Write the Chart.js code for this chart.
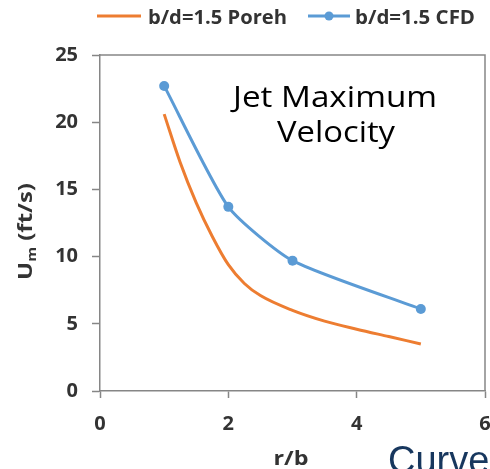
<!DOCTYPE html>
<html>
<head>
<meta charset="utf-8">
<script src="https://cdn.jsdelivr.net/npm/chart.js@4/dist/chart.umd.min.js"></script>
<style>
  html, body { margin: 0; padding: 0; background: #fff; }
</style>
</head>
<body>
<canvas id="myChart" width="490" height="469"></canvas>
<script>
// values
const porehX = [1, 1.25, 1.5, 1.75, 2, 2.25, 2.5, 3, 3.5, 4, 4.5, 5];
const porehY = [20.6, 17.0, 14.0, 11.5, 9.4, 8.0, 7.1, 6.0, 5.2, 4.6, 4.05, 3.5];
const cfdX = [1, 2, 3, 5];
const cfdY = [22.7, 13.7, 9.7, 6.1];
const xTicks = [0, 2, 4, 6];
const yTicks = [0, 5, 10, 15, 20, 25];

const orange = '#ED7D31';
const blue = '#5B9BD5';
const axisGray = '#868686';
const textDark = '#333333';

// draws text stretched to a given width (Calibri-like look)
function fitText(ctx, text, x, y, width, align) {
    const w = ctx.measureText(text).width;
    ctx.save();
    ctx.translate(x, y);
    ctx.scale(width / w, 1);
    ctx.textAlign = align;
    ctx.fillText(text, 0, 0);
    ctx.restore();
}

const extras = {
    id: 'extras',
    afterDraw(chart) {
        const ctx = chart.ctx;
        const a = chart.chartArea;

        // frame top + right
        ctx.save();
        ctx.strokeStyle = axisGray;
        ctx.lineWidth = 1.5;
        ctx.beginPath();
        ctx.moveTo(a.left, a.top);
        ctx.lineTo(a.right, a.top);
        ctx.lineTo(a.right, a.bottom);
        ctx.stroke();

        // legend
        ctx.lineWidth = 3;
        ctx.strokeStyle = orange;
        ctx.beginPath();
        ctx.moveTo(97, 16);
        ctx.lineTo(141, 16);
        ctx.stroke();
        ctx.strokeStyle = blue;
        ctx.beginPath();
        ctx.moveTo(308, 16);
        ctx.lineTo(350, 16);
        ctx.stroke();
        ctx.fillStyle = blue;
        ctx.beginPath();
        ctx.arc(329, 16, 4.5, 0, Math.PI * 2);
        ctx.fill();

        ctx.fillStyle = textDark;
        ctx.textBaseline = 'alphabetic';
        ctx.font = 'bold 20px "Open Sans"';
        fitText(ctx, 'b/d=1.5 Poreh', 148, 24, 139, 'left');
        fitText(ctx, 'b/d=1.5 CFD', 355, 24, 120, 'left');

        // annotation
        ctx.fillStyle = '#000';
        ctx.font = '30px "Open Sans"';
        fitText(ctx, 'Jet Maximum', 335, 107, 204, 'center');
        fitText(ctx, 'Velocity', 336, 142, 118, 'center');

        // axis titles
        ctx.fillStyle = textDark;
        ctx.font = 'bold 20px "Open Sans"';
        fitText(ctx, 'r/b', 291, 465, 35, 'center');

        ctx.save();
        ctx.translate(32, 280);
        ctx.rotate(-Math.PI / 2);
        ctx.font = 'bold 19px "Open Sans"';
        const uW = ctx.measureText('U').width;
        ctx.font = 'bold 12px "Open Sans"';
        const mW = ctx.measureText('m').width;
        ctx.font = 'bold 19px "Open Sans"';
        const restW = ctx.measureText(' (ft/s)').width;
        const sx = 97 / (uW + mW + restW);
        ctx.scale(sx, 1);
        ctx.textAlign = 'left';
        ctx.fillText('U', 0, 0);
        ctx.font = 'bold 12px "Open Sans"';
        ctx.fillText('m', uW, 4);
        ctx.font = 'bold 19px "Open Sans"';
        ctx.fillText(' (ft/s)', uW + mW, 0);
        ctx.restore();

        // cut-off text at the bottom right
        ctx.fillStyle = '#17375E';
        ctx.font = '38px "Liberation Sans"';
        ctx.textAlign = 'left';
        ctx.fillText('Curve', 388, 473);
        ctx.restore();
    }
};

const ctx = document.getElementById('myChart').getContext('2d');
const myChart = new Chart(ctx, {
    type: 'line',
    data: {
        datasets: [{
            label: 'b/d=1.5 Poreh',
            data: porehX.map((x, i) => ({ x: x, y: porehY[i] })),
            borderColor: orange,
            borderWidth: 3,
            pointRadius: 0,
            cubicInterpolationMode: 'monotone'
        }, {
            label: 'b/d=1.5 CFD',
            data: cfdX.map((x, i) => ({ x: x, y: cfdY[i] })),
            borderColor: blue,
            backgroundColor: blue,
            borderWidth: 3,
            pointRadius: 5,
            pointBackgroundColor: blue,
            pointBorderWidth: 0,
            tension: 0.2
        }]
    },
    options: {
        responsive: false,
        animation: false,
        devicePixelRatio: 1,
        layout: { padding: { top: 55, right: 1, left: 0, bottom: 0 } },
        plugins: {
            legend: { display: false },
            tooltip: { enabled: false }
        },
        scales: {
            x: {
                type: 'linear',
                min: 0,
                max: 6,
                afterBuildTicks: s => { s.ticks = xTicks.map(v => ({ value: v })); },
                afterFit: s => { s.height = 78; s.paddingLeft = 0; s.paddingRight = 0; },
                ticks: {
                    color: textDark,
                    font: { family: 'Open Sans', weight: 'bold', size: 20 },
                    padding: 14,
                    maxRotation: 0
                },
                grid: { drawOnChartArea: false, color: axisGray, tickLength: 7, tickWidth: 1.5 },
                border: { color: axisGray, width: 1.5 }
            },
            y: {
                min: 0,
                max: 25,
                afterBuildTicks: s => { s.ticks = yTicks.map(v => ({ value: v })); },
                afterFit: s => { s.width = 100; s.paddingTop = 0; s.paddingBottom = 0; },
                ticks: {
                    color: textDark,
                    font: { family: 'Open Sans', weight: 'bold', size: 20 },
                    padding: 14
                },
                grid: { drawOnChartArea: false, color: axisGray, tickLength: 8, tickWidth: 1.5 },
                border: { color: axisGray, width: 1.5 }
            }
        }
    },
    plugins: [extras]
});
</script>
</body>
</html>
